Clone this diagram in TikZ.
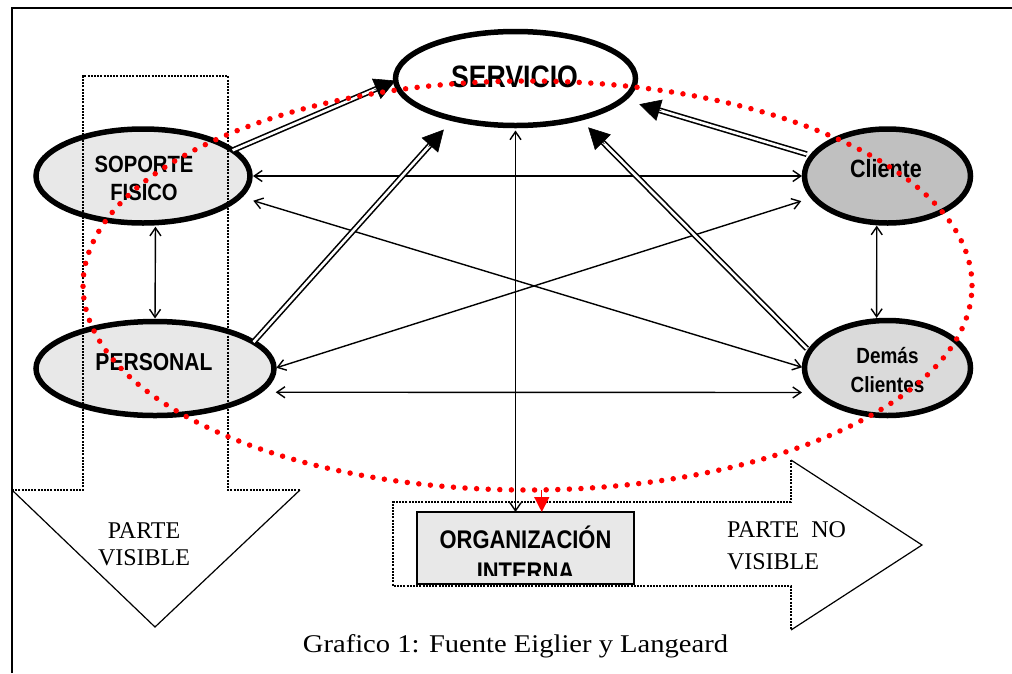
\documentclass[tikz,border=0pt]{standalone}
\usepackage{fontspec}
\setmainfont{Liberation Serif}
\newfontfamily\nar[FakeStretch=0.86]{Liberation Sans}
\newfontfamily\capfont[FakeStretch=1.12]{Liberation Serif}
\usetikzlibrary{shapes.geometric,arrows.meta,calc}
\definecolor{lg}{HTML}{E8E8E8}
\definecolor{mg}{HTML}{C0C0C0}
\definecolor{dg}{HTML}{DADADA}
\begin{document}
\begin{tikzpicture}[x=1pt,y=-1pt,
  ell/.style={ellipse, draw, line width=5.5pt, inner sep=0pt, outer sep=0pt},
  arr/.style={line width=1.4pt, {Straight Barb[length=8pt,width=11pt]}-{Straight Barb[length=8pt,width=11pt]}},
  dblshaft/.style={double=white, draw=black, line width=1.6pt, double distance=2.6pt},
  dblhead/.style={line width=0.6pt, -{Triangle[length=21pt,width=22pt]}},
  dsh/.style={line width=1.3pt, dash pattern=on 2pt off 1.2pt},
  sol/.style={line width=1.2pt},
  lbl/.style={inner sep=0pt, outer sep=0pt, align=center},
  sansbig/.style={font=\nar\bfseries\fontsize{#1}{#1}\selectfont},
]
\useasboundingbox (0,0) rectangle (1012,673);
% frame
\draw[line width=2pt] (12,673) -- (12,8) -- (1012,8);

% ellipses
\node[ell, fill=white, minimum width=240pt, minimum height=94pt] (serv) at (515.5,78.5) {};
\node[ell, fill=lg, minimum width=214pt, minimum height=94pt] (sop) at (143,176) {};
\node[ell, fill=lg, minimum width=238pt, minimum height=94pt] (pers) at (155,368.5) {};
\node[ell, fill=mg, minimum width=166pt, minimum height=94pt] (cli) at (887.5,176) {};
\node[ell, fill=dg, minimum width=166pt, minimum height=95pt] (dem) at (887.5,368) {};

% labels
\node[lbl, sansbig=31] (servT) at ([yshift=1.5pt,xshift=-1pt]serv.center) {SERVICIO};
\node[lbl, font=\nar\bfseries\fontsize{23.5}{28}\selectfont] (sopT) at ([yshift=-2pt,xshift=1pt]sop.center) {SOPORTE\\FISICO};
\node[lbl, sansbig=24.5] (persT) at ([yshift=6pt,xshift=-1pt]pers.center) {PERSONAL};
\node[lbl, sansbig=25] (cliT) at ([yshift=7pt,xshift=-1.5pt]cli.center) {Cliente};
\node[lbl, font=\nar\bfseries\fontsize{22}{29}\selectfont] (demT) at ([yshift=-2.5pt]dem.center) {Demás\\Clientes};

% big outline arrows
\draw[dsh] (12,490) -- (83,490) -- (83,76) -- (228,76) -- (228,490) -- (300,490);
\draw[sol] (12,490) -- (155,627) -- (300,490);
\draw[dsh] (791,460) -- (791,502) -- (393,502) -- (393,586) -- (791,586) -- (791,630);
\draw[sol] (791,460) -- (922,545) -- (791,630);

\node[lbl, font=\fontsize{24}{27.3}\selectfont] (visT) at (144,544.5) {PARTE\\VISIBLE};
\node[lbl, align=left, anchor=west, font=\fontsize{24}{32}\selectfont] (novisT) at (727,546) {PARTE\ \ NO\\VISIBLE};

% organizacion box
\node[draw, line width=1.8pt, fill=lg, minimum width=217pt, minimum height=72pt, inner sep=0pt, outer sep=0pt] (org) at (525.5,548) {};
\begin{scope}
  \clip (org.north west) rectangle ([yshift=9pt]org.south east);
  \node[lbl, anchor=base, sansbig=25.5] (orgA) at ([yshift=-0.5pt]org.center) {ORGANIZACIÓN};
  \node[lbl, anchor=base, sansbig=25.5] (orgB) at ([yshift=-32pt]org.center) {INTERNA};
\end{scope}

% single connectors
\draw[arr, shorten <=3pt, shorten >=2.5pt] (sop.east) -- (cli.west);
\draw[arr, shorten <=18pt, shorten >=14.4pt] (pers.-13.2) -- (dem.199);
\draw[arr, shorten <=4pt, shorten >=3pt] (sop.-75.6) -- (pers.north);
\draw[arr, shorten <=3pt, shorten >=3pt] (cli.-103.9) -- (dem.103.7);
\draw[arr, shorten <=14.6pt, shorten >=2.5pt] (sop.-12.2) -- (dem.180.6);
\draw[arr, shorten <=2.5pt, shorten >=12.8pt] (pers.0) -- (cli.196.7);
\draw[arr, shorten <=5pt] (serv.south) -- (serv.south |- org.north);

% double arrows to SERVICIO
\draw[dblshaft, shorten >=19pt] (sop.16.3) -- (serv.181.45);
\draw[dblhead] ($(serv.181.45)!23pt!(sop.16.3)$) -- (serv.181.45);

\draw[dblshaft, shorten >=33.5pt] (pers.15.6) -- (serv.-147.2);
\draw[dblhead, shorten >=14.5pt] ($(serv.-147.2)!37.5pt!(pers.15.6)$) -- (serv.-147.2);

\draw[dblshaft, shorten <=6pt, shorten >=36pt] (cli.165) -- (serv.-11.9);
\draw[dblhead, shorten >=17pt] ($(serv.-11.9)!40pt!(cli.165)$) -- (serv.-11.9);

\draw[dblshaft, shorten <=4pt, shorten >=31.7pt] (dem.168.4) -- (serv.-32.4);
\draw[dblhead, shorten >=12.7pt] ($(serv.-32.4)!35.7pt!(dem.168.4)$) -- (serv.-32.4);

% red dotted zone
\node[ellipse, draw=red, line width=5.5pt, dash pattern=on 0pt off 11.6pt, line cap=round, minimum width=889pt, minimum height=409pt, inner sep=0pt, outer sep=0pt] (zone) at (527.5,285.5) {};
\draw[red, line width=1.4pt, -{Triangle[length=15pt,width=15pt]}] (zone.-86.8) -- (zone.-86.8 |- org.north);

% caption
\node[inner sep=0pt, anchor=base, font=\capfont\fontsize{25.5}{25.5}\selectfont] (capT) at (515.5,652) {Grafico 1: Fuente Eiglier y Langeard};
\end{tikzpicture}
\end{document}
